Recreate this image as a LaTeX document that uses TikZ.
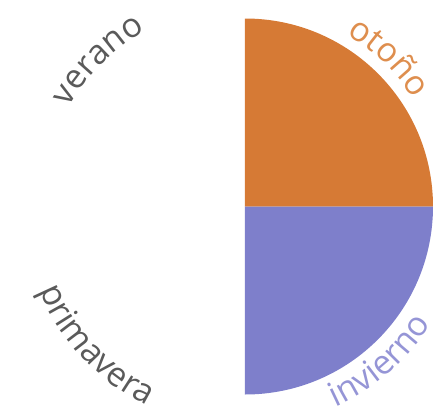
\documentclass[tikz,border=0pt]{standalone}
\usepackage{fontspec}
\setmainfont{Open Sans}
\usepackage{tikz}
\usetikzlibrary{decorations.text}
\definecolor{autumn}{HTML}{D67A35}
\definecolor{winter}{HTML}{7E7FCB}
\definecolor{autumntxt}{HTML}{DE8E4E}
\definecolor{wintertxt}{HTML}{9595D6}
\definecolor{greytxt}{HTML}{5A5A5A}
\newcommand{\seasonfont}{\fontsize{24}{24}\selectfont}

\begin{document}
\begin{tikzpicture}[
  quarter/.style={fill=#1},
  season/.style={decorate,decoration={text along path,text align=center,text={#1}}}]
  \useasboundingbox (-6.125,-5.1625) rectangle (4.925,5.1625);
  % the two quarters
  \fill[quarter=autumn] (0,0) -- (90:4.7) arc[start angle=90,end angle=0,radius=4.7] -- cycle;
  \fill[quarter=winter] (0,0) -- (0:4.7) arc[start angle=0,end angle=-90,radius=4.7] -- cycle;
  % labels round the circle
  \path[season={|\seasonfont\color{greytxt}|verano}] (165:5.05) arc[start angle=165,end angle=105,radius=5.05];
  \path[season={|\seasonfont\color{autumntxt}|otoño}] (76:5.0) arc[start angle=76,end angle=16,radius=5.0];
  \path[season={|\seasonfont\color{greytxt}|primavera}] (188:5.55) arc[start angle=188,end angle=258,radius=5.55];
  \path[season={|\seasonfont\color{wintertxt}|invierno}] (-82:5.5) arc[start angle=-82,end angle=-16,radius=5.5];
\end{tikzpicture}
\end{document}
